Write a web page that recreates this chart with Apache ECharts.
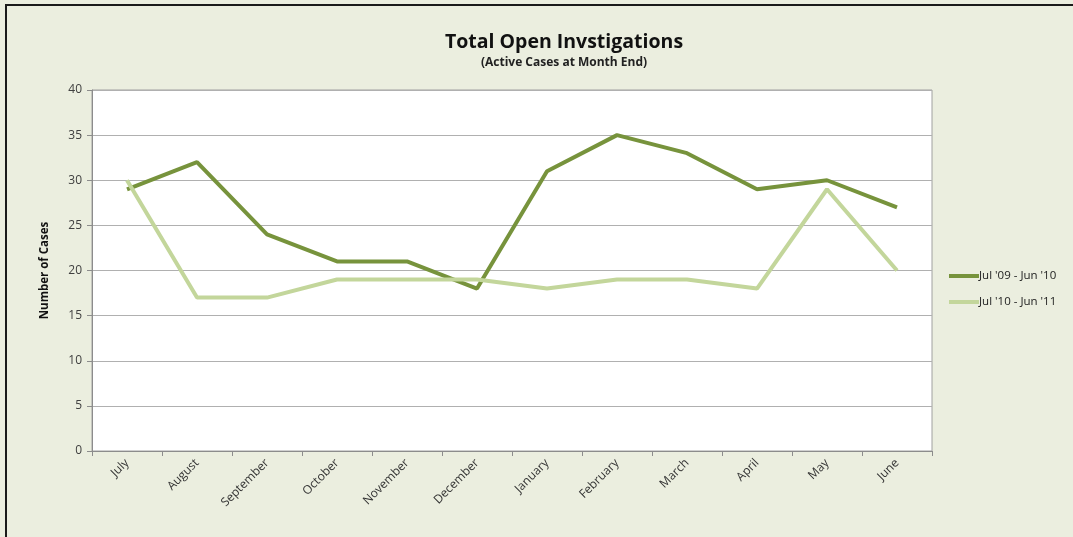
<!DOCTYPE html>
<html>
<head>
<meta charset="utf-8">
<script src="https://cdn.jsdelivr.net/npm/echarts@6/dist/echarts.min.js"></script>
<style>
  html, body { margin: 0; padding: 0; background: #ebeedf; }
  #frame {
    position: absolute; left: 5px; top: 4px; width: 1080px; height: 545px;
    border: 2px solid #1a1a1a; box-sizing: border-box; background: #ebeedf;
  }
  #chart { position: absolute; left: 0; top: 0; width: 1073px; height: 537px; }
</style>
</head>
<body>
<div id="frame"></div>
<div id="chart"></div>
<script>
const months = ["July", "August", "September", "October", "November", "December",
  "January", "February", "March", "April", "May", "June"]
const fy0910 = [29, 32, 24, 21, 21, 18, 31, 35, 33, 29, 30, 27]
const fy1011 = [30, 17, 17, 19, 19, 19, 18, 19, 19, 18, 29, 20]
const yTicks = { min: 0, max: 40, step: 5 }

const font = "'Open Sans', 'Noto Sans', sans-serif"

const chart = echarts.init(document.getElementById("chart"))

chart.setOption({
  backgroundColor: "transparent",
  textStyle: { fontFamily: font },
  title: {
    text: "Total Open Invstigations",
    subtext: "(Active Cases at Month End)",
    left: 559,
    textAlign: "center",
    top: 27,
    itemGap: 5,
    textStyle: { fontSize: 19.5, fontWeight: "bold", color: "#111", fontFamily: font },
    subtextStyle: { fontSize: 12, fontWeight: "bold", color: "#222", fontFamily: font }
  },
  legend: {
    orient: "vertical",
    left: 944,
    top: 265,
    itemWidth: 30,
    itemHeight: 4,
    itemGap: 14,
    icon: "rect",
    textStyle: { fontSize: 11.5, color: "#222", padding: [0, 0, 0, -5] },
    data: ["Jul '09 - Jun '10", "Jul '10 - Jun '11"]
  },
  grid: {
    left: 92, top: 90, width: 840, height: 361,
    show: true, backgroundColor: "#ffffff", borderColor: "#a0a0a0", borderWidth: 1
  },
  xAxis: {
    type: "category",
    data: months,
    boundaryGap: true,
    axisLine: { lineStyle: { color: "#8c8c8c", width: 1 } },
    axisTick: { show: true, length: 5, lineStyle: { color: "#8c8c8c" } },
    axisLabel: { rotate: 45, fontSize: 12, color: "#333", margin: 10, interval: 0 }
  },
  yAxis: {
    type: "value",
    min: yTicks.min,
    max: yTicks.max,
    interval: yTicks.step,
    name: "Number of Cases",
    nameLocation: "middle",
    nameGap: 41,
    nameTextStyle: { fontSize: 11.5, fontWeight: "bold", color: "#111" },
    axisLine: { show: true, lineStyle: { color: "#8c8c8c" } },
    axisTick: { show: true, length: 5, lineStyle: { color: "#8c8c8c" } },
    axisLabel: { fontSize: 12, color: "#404040", margin: 10 },
    splitLine: { lineStyle: { color: "#b0b0b0", width: 1 } }
  },
  series: [
    {
      name: "Jul '09 - Jun '10",
      type: "line",
      data: fy0910,
      symbol: "none",
      color: "#77933c",
      lineStyle: { width: 4, color: "#77933c" }
    },
    {
      name: "Jul '10 - Jun '11",
      type: "line",
      data: fy1011,
      symbol: "none",
      color: "#c3d69b",
      lineStyle: { width: 4, color: "#c3d69b" }
    }
  ]
})
</script>
</body>
</html>
